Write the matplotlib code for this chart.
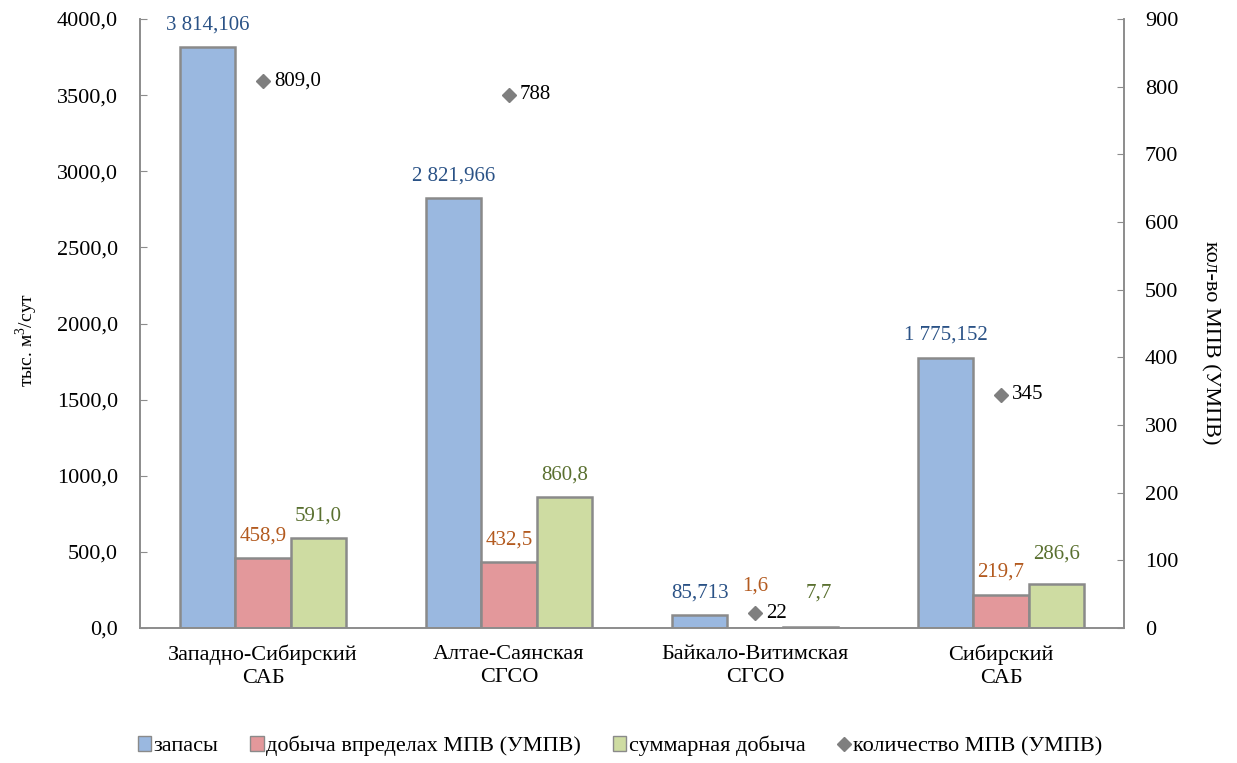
import matplotlib
matplotlib.use("Agg")
import matplotlib.pyplot as plt
import numpy as np
from matplotlib.patches import Patch
from matplotlib.lines import Line2D

plt.rcParams['font.family'] = ['Liberation Serif', 'DejaVu Serif']
plt.rcParams['mathtext.fontset'] = 'custom'
plt.rcParams['mathtext.rm'] = 'Liberation Serif'

categories = ["Западно-Сибирский\nСАБ", "Алтае-Саянская\nСГСО",
              "Байкало-Витимская\nСГСО", "Сибирский\nСАБ"]
reserves = [3814.106, 2821.966, 85.713, 1775.152]
production_in_fields = [458.9, 432.5, 1.6, 219.7]
total_production = [591.0, 860.8, 7.7, 286.6]
field_count = [809.0, 788, 22, 345]
field_count_decimals = [1, 0, 0, 0]

series_names = ["запасы", "добыча впределах МПВ (УМПВ)", "суммарная добыча",
                "количество МПВ (УМПВ)"]

bar_colors = ["#9AB8E0", "#E3989B", "#CEDCA2"]
label_colors = ["#2A5286", "#B35A1F", "#5A7030"]
edge_color = "#8A8A8A"
axis_color = "#8C8C8C"

W, H = 1237, 763


def fmt(v, decimals, sep=" "):
    s = f"{v:,.{decimals}f}"
    return s.replace(",", sep).replace(".", ",")


fig = plt.figure(figsize=(W / 100, H / 100), dpi=100)
ax = fig.add_axes([140 / W, 1 - 628 / H, (1124 - 140) / W, (628 - 19) / H])
ax2 = ax.twinx()

x = np.arange(len(categories))
w = 0.225
series = [reserves, production_in_fields, total_production]
decimals = [3, 1, 1]
# extra shifts (points) for labels that would otherwise collide
shift = {(1, 2): (0, 14), (2, 2): (6, 8), (2, 3): (0, 6)}
for i, (vals, col, lcol, dec) in enumerate(zip(series, bar_colors, label_colors, decimals)):
    xs = x + (i - 1) * w
    ax.bar(xs, vals, width=w, color=col, edgecolor=edge_color, linewidth=1.8, zorder=2)
    for j, (xx, v) in enumerate(zip(xs, vals)):
        dx, dy = shift.get((i, j), (0, 0))
        ax.annotate(fmt(v, dec), (xx, v), xytext=(dx, 16 + dy),
                    textcoords="offset points", ha="center", va="center",
                    fontsize=15, color=lcol, zorder=5)

ax2.plot(x, field_count, linestyle="none", marker="D", markersize=7.5,
         color="#7F7F7F", zorder=4)
for xx, v, d in zip(x, field_count, field_count_decimals):
    ax2.annotate(fmt(v, d), (xx, v), xytext=(8, 0), textcoords="offset points",
                 ha="left", va="center", fontsize=15, color="black")

ax.set_xlim(-0.5, len(categories) - 0.5)
ax.set_ylim(0, 4000)
ax2.set_ylim(0, 900)
left_ticks = np.arange(0, 4001, 500)
ax.set_yticks(left_ticks)
ax.set_yticklabels([fmt(t, 1, sep="") for t in left_ticks])
ax2.set_yticks(np.arange(0, 901, 100))
ax.set_xticks(x)
ax.set_xticklabels(categories, fontsize=16, linespacing=1.3)

for a in (ax, ax2):
    a.spines["top"].set_visible(False)
    for s in ("left", "right", "bottom"):
        a.spines[s].set_color(axis_color)
        a.spines[s].set_linewidth(1.2)
    a.tick_params(axis="y", direction="in", length=5, color=axis_color, labelsize=16)
ax.tick_params(axis="x", length=0, pad=12)
ax.tick_params(axis="y", pad=16)
ax2.tick_params(axis="y", pad=15)

fig.text(27 / W, 1 - 340 / H, "тыс. м$^3$/сут", fontsize=14, rotation=90,
         ha="center", va="center")
fig.text(1210 / W, 1 - 343 / H, "кол-во МПВ (УМПВ)", fontsize=16, rotation=270,
         ha="center", va="center")

handles = [Patch(facecolor=c, edgecolor=edge_color, linewidth=1.0) for c in bar_colors]
handles.append(Line2D([], [], linestyle="none", marker="D", color="#7F7F7F", markersize=7))
fig.legend(handles, series_names, loc="center", bbox_to_anchor=(620 / W, 1 - 746 / H),
           ncol=4, frameon=False, fontsize=16, handlelength=0.6, handleheight=0.7,
           handletextpad=0.1, columnspacing=1.45)

fig.savefig("out.png", dpi=100)
